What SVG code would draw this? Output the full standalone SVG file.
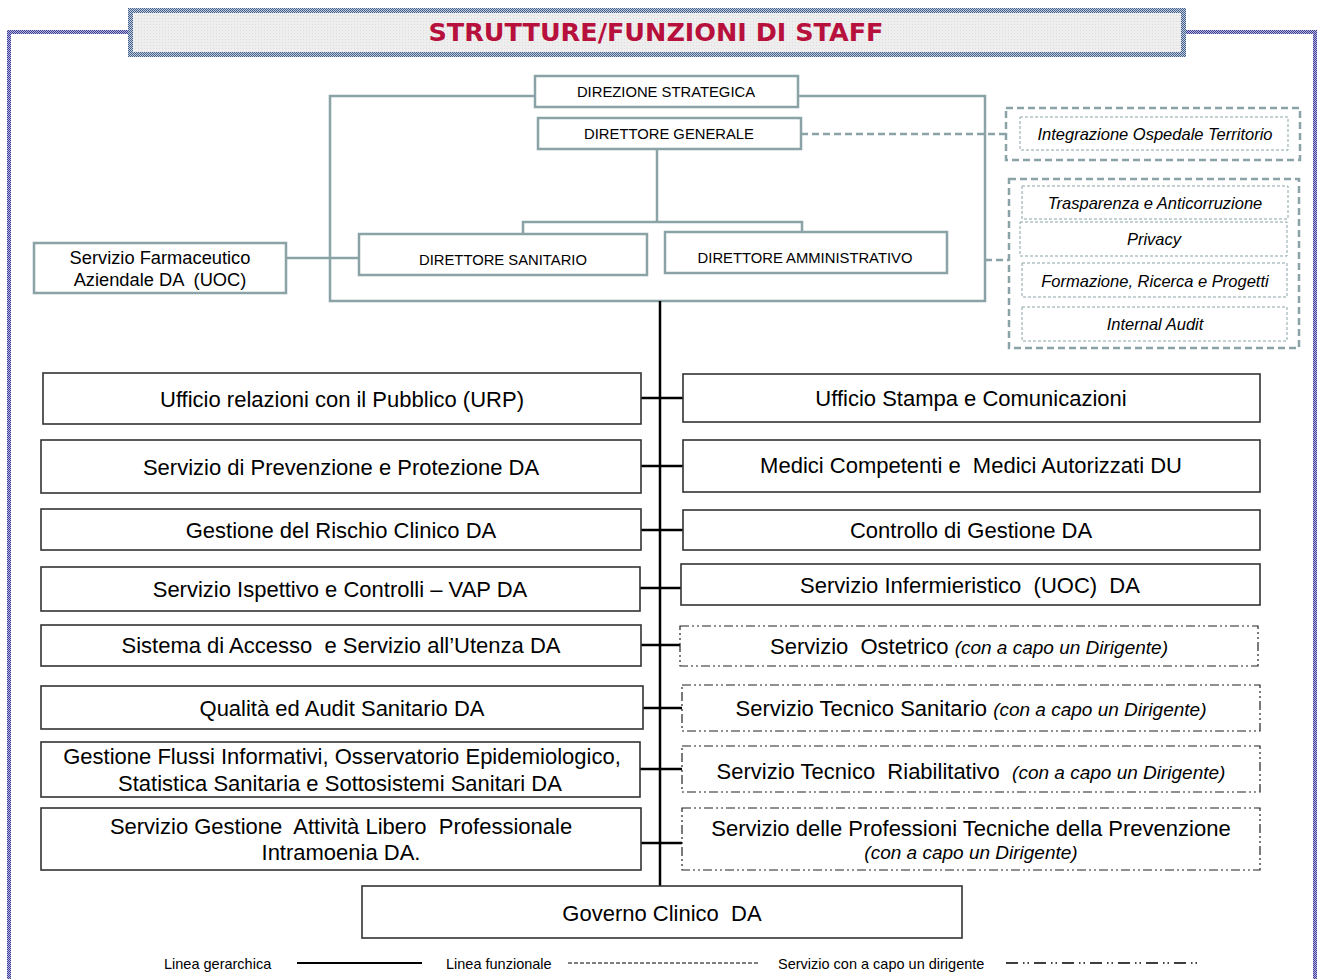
<svg xmlns="http://www.w3.org/2000/svg" width="1318" height="979" viewBox="0 0 1318 979">
<defs>
  <pattern id="chk" width="2" height="2" patternUnits="userSpaceOnUse">
    <rect width="2" height="2" fill="#b4b4dc"/>
    <rect width="1" height="1" fill="#40409a"/>
    <rect x="1" y="1" width="1" height="1" fill="#40409a"/>
  </pattern>
  <pattern id="chk2" width="2" height="2" patternUnits="userSpaceOnUse">
    <rect width="2" height="2" fill="#c4cede"/>
    <rect width="1" height="1" fill="#42608c"/>
    <rect x="1" y="1" width="1" height="1" fill="#42608c"/>
  </pattern>
  <pattern id="dots" width="3" height="3" patternUnits="userSpaceOnUse">
    <rect width="3" height="3" fill="#eeeeee"/>
    <rect width="1" height="1" fill="#dddddd"/>
  </pattern>
</defs>
<style>
  text { font-family: "Liberation Sans", Arial, sans-serif; fill: #000; white-space: pre; }
  .big { font-size: 22px; text-anchor: middle; }
  .sm { font-size: 14.8px; text-anchor: middle; }
  .it { font-style: italic; font-size: 16.5px; text-anchor: middle; }
  .note { font-style: italic; font-size: 19px; }
  .leg { font-size: 14.5px; }
  .box { fill: #fff; stroke: #333; stroke-width: 1.6; }
  .dd { fill: #fff; stroke: #222; stroke-width: 1.2; stroke-dasharray: 9 3 2 3 2 3; }
  .tb { fill: #fff; stroke: #8aa3a6; stroke-width: 2.5; }
  .tdo { fill: none; stroke: #8aa3a6; stroke-width: 2.5; stroke-dasharray: 7 4; }
  .tdi { fill: #fff; stroke: #8aa3a6; stroke-width: 1; stroke-dasharray: 3 2; }
  .tl { fill: none; stroke: #8aa3a6; stroke-width: 2.5; }
  .tld { fill: none; stroke: #8aa3a6; stroke-width: 2.5; stroke-dasharray: 7 4; }
  .bl { fill: none; stroke: #000; stroke-width: 2.5; }
</style>

<!-- outer border -->
<g id="border">
  <rect x="7" y="30" width="122" height="4" fill="url(#chk)"/>
  <rect x="7" y="30" width="4" height="949" fill="url(#chk)"/>
  <rect x="1185" y="30" width="132" height="4" fill="url(#chk)"/>
  <rect x="1313" y="30" width="4" height="949" fill="url(#chk)"/>
</g>

<g id="title">
  <rect x="128" y="8" width="1058" height="49" fill="url(#chk2)"/>
  <rect x="133" y="13" width="1048" height="39" fill="url(#dots)"/>
  <text x="656" y="41" style="font-family:'DejaVu Sans','Liberation Sans',sans-serif;font-weight:bold;font-size:24px;fill:#b8103c;text-anchor:middle" textLength="455" lengthAdjust="spacingAndGlyphs">STRUTTURE/FUNZIONI DI STAFF</text>
</g>

<!-- connectors -->
<g id="connectors">
  <polyline class="tl" points="535,96 330,96 330,301 985,301 985,96 798,96"/>
  <polyline class="tl" points="657,149 657,222"/>
  <polyline class="tl" points="523,234 523,222 802,222 802,232"/>
  <line class="tl" x1="286" y1="258" x2="359" y2="258"/>
  <line class="tld" x1="801" y1="134" x2="1007" y2="134"/>
  <line class="tld" x1="985" y1="260" x2="1009" y2="260"/>
  <line class="bl" x1="660" y1="301" x2="660" y2="886"/>
  <line class="bl" x1="641" y1="398" x2="683" y2="398"/>
  <line class="bl" x1="641" y1="466" x2="683" y2="466"/>
  <line class="bl" x1="641" y1="530" x2="683" y2="530"/>
  <line class="bl" x1="640" y1="588" x2="681" y2="588"/>
  <line class="bl" x1="641" y1="645" x2="680" y2="645"/>
  <line class="bl" x1="643" y1="708" x2="682" y2="708"/>
  <line class="bl" x1="640" y1="769" x2="682" y2="769"/>
  <line class="bl" x1="641" y1="843" x2="682" y2="843"/>
</g>

<g id="direzione-strategica">
  <rect class="tb" x="535" y="76" width="263" height="31"/>
  <text class="sm" x="666" y="96.5">DIREZIONE STRATEGICA</text>
</g>
<g id="direttore-generale">
  <rect class="tb" x="538" y="118" width="263" height="31"/>
  <text class="sm" x="669" y="138.5">DIRETTORE GENERALE</text>
</g>
<g id="direttore-sanitario">
  <rect class="tb" x="359" y="234" width="288" height="41"/>
  <text class="sm" x="503" y="265">DIRETTORE SANITARIO</text>
</g>
<g id="direttore-amministrativo">
  <rect class="tb" x="665" y="232" width="282" height="41"/>
  <text class="sm" x="805" y="263">DIRETTORE AMMINISTRATIVO</text>
</g>
<g id="farmaceutico">
  <rect class="tb" x="34" y="243" width="252" height="50"/>
  <text x="160" y="264" style="font-size:18.3px;text-anchor:middle">Servizio Farmaceutico</text>
  <text x="160" y="286" style="font-size:18.3px;text-anchor:middle">Aziendale DA  (UOC)</text>
</g>

<g id="integrazione">
  <rect class="tdo" x="1006" y="108" width="294" height="52"/>
  <rect class="tdi" x="1020" y="117" width="268" height="33"/>
  <text class="it" x="1155" y="140">Integrazione Ospedale Territorio</text>
</g>
<g id="staff-gruppo">
  <rect class="tdo" x="1009" y="179" width="290" height="169"/>
  <g id="trasparenza">
    <rect class="tdi" x="1022" y="186" width="266" height="33"/>
    <text class="it" x="1155" y="209">Trasparenza e Anticorruzione</text>
  </g>
  <g id="privacy">
    <rect class="tdi" x="1020" y="222" width="267" height="34"/>
    <text class="it" x="1154" y="245">Privacy</text>
  </g>
  <g id="formazione">
    <rect class="tdi" x="1022" y="263" width="265" height="34"/>
    <text class="it" x="1155" y="287">Formazione, Ricerca e Progetti</text>
  </g>
  <g id="internal-audit">
    <rect class="tdi" x="1022" y="307" width="265" height="34"/>
    <text class="it" x="1155" y="330">Internal Audit</text>
  </g>
</g>

<!-- left column -->
<g id="urp">
  <rect class="box" x="43" y="373" width="598" height="51"/>
  <text class="big" x="342" y="406.5">Ufficio relazioni con il Pubblico (URP)</text>
</g>
<g id="prevenzione-protezione">
  <rect class="box" x="41" y="440" width="600" height="53"/>
  <text class="big" x="341" y="474.5">Servizio di Prevenzione e Protezione DA</text>
</g>
<g id="rischio-clinico">
  <rect class="box" x="41" y="509" width="600" height="41"/>
  <text class="big" x="341" y="537.5">Gestione del Rischio Clinico DA</text>
</g>
<g id="ispettivo">
  <rect class="box" x="41" y="567" width="599" height="44"/>
  <text class="big" x="340" y="596.5">Servizio Ispettivo e Controlli – VAP DA</text>
</g>
<g id="accesso">
  <rect class="box" x="41" y="625" width="600" height="41"/>
  <text class="big" x="341" y="652.5">Sistema di Accesso  e Servizio all’Utenza DA</text>
</g>
<g id="qualita">
  <rect class="box" x="41" y="686" width="602" height="43"/>
  <text class="big" x="342" y="715.5">Qualità ed Audit Sanitario DA</text>
</g>
<g id="flussi">
  <rect class="box" x="41" y="742" width="599" height="55"/>
  <text class="big" x="342" y="763.5">Gestione Flussi Informativi, Osservatorio Epidemiologico,</text>
  <text class="big" x="340" y="790.5">Statistica Sanitaria e Sottosistemi Sanitari DA</text>
</g>
<g id="alp">
  <rect class="box" x="41" y="808" width="600" height="62"/>
  <text class="big" x="341" y="833.5">Servizio Gestione  Attività Libero  Professionale</text>
  <text class="big" x="341" y="859.5">Intramoenia DA.</text>
</g>

<!-- right column -->
<g id="stampa">
  <rect class="box" x="683" y="374" width="577" height="48"/>
  <text class="big" x="971" y="405.5">Ufficio Stampa e Comunicazioni</text>
</g>
<g id="medici">
  <rect class="box" x="683" y="440" width="577" height="52"/>
  <text class="big" x="971" y="472.5">Medici Competenti e  Medici Autorizzati DU</text>
</g>
<g id="controllo-gestione">
  <rect class="box" x="683" y="510" width="577" height="40"/>
  <text class="big" x="971" y="537.5">Controllo di Gestione DA</text>
</g>
<g id="infermieristico">
  <rect class="box" x="681" y="564" width="579" height="41"/>
  <text class="big" x="970" y="592.5">Servizio Infermieristico  (UOC)  DA</text>
</g>
<g id="ostetrico">
  <rect class="dd" x="680" y="626" width="578" height="40"/>
  <text class="big" x="969" y="653.5">Servizio  Ostetrico <tspan class="note">(con a capo un Dirigente)</tspan></text>
</g>
<g id="tecnico-sanitario">
  <rect class="dd" x="682" y="685" width="578" height="46"/>
  <text class="big" x="971" y="715.5">Servizio Tecnico Sanitario <tspan class="note">(con a capo un Dirigente)</tspan></text>
</g>
<g id="riabilitativo">
  <rect class="dd" x="682" y="746" width="578" height="46"/>
  <text class="big" x="971" y="778.5">Servizio Tecnico  Riabilitativo  <tspan class="note">(con a capo un Dirigente)</tspan></text>
</g>
<g id="tecniche-prevenzione">
  <rect class="dd" x="682" y="808" width="578" height="62"/>
  <text class="big" x="971" y="835.5">Servizio delle Professioni Tecniche della Prevenzione</text>
  <text class="note" x="971" y="859" style="text-anchor:middle">(con a capo un Dirigente)</text>
</g>

<g id="governo-clinico">
  <rect class="box" x="362" y="886" width="600" height="52"/>
  <text class="big" x="662" y="920.5">Governo Clinico  DA</text>
</g>

<g id="legend">
  <text class="leg" x="164" y="969">Linea gerarchica</text>
  <line x1="297" y1="963" x2="422" y2="963" stroke="#000" stroke-width="2"/>
  <text class="leg" x="446" y="969">Linea funzionale</text>
  <line x1="568" y1="963" x2="760" y2="963" stroke="#000" stroke-width="1" stroke-dasharray="4 2"/>
  <text class="leg" x="778" y="969">Servizio con a capo un dirigente</text>
  <line x1="1006" y1="963" x2="1200" y2="963" stroke="#000" stroke-width="1.3" stroke-dasharray="12 5 1.5 3 1.5 5"/>
</g>
</svg>
